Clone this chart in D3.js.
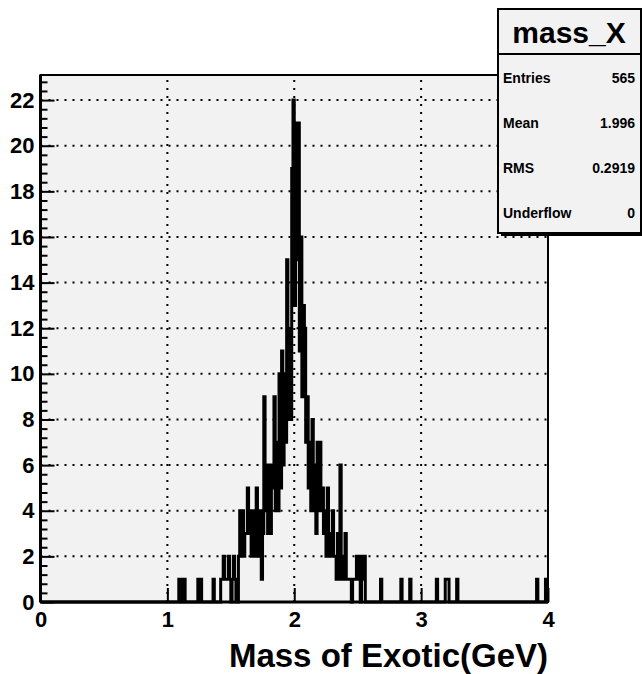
<!DOCTYPE html>
<html><head><meta charset="utf-8">
<script src="https://cdn.jsdelivr.net/npm/d3@7"></script>
<style>body{margin:0;background:#fff}svg{display:block}text{font-family:'Liberation Sans',Arial,Helvetica,sans-serif;font-weight:bold}</style>
</head><body>
<svg id="c" width="642" height="674"></svg>
<script>
// ---- data ----
const nBins = 400;            // bins of 0.01 GeV from 0 to 4
const xRange = [0, 4];
const binIndex = [109,110,112,113,124,126,136,
  142,143,144,145,146,147,148,149,151,152,153,156,
  157,158,159,160,161,162,163,164,165,166,167,168,169,170,171,172,173,174,
  175,176,177,178,179,180,181,182,183,184,185,186,187,
  188,189,190,191,192,193,194,195,196,197,198,199,
  200,201,202,203,204,205,206,207,208,209,210,211,
  212,213,214,215,216,217,218,219,220,221,222,223,
  224,225,226,227,228,229,230,231,232,233,234,235,236,237,238,239,240,241,242,243,
  244,246,247,248,249,250,251,253,254,255,
  268,284,291,312,319,320,321,328,391,398];
const binCount = [1,1,1,1,1,1,1,
  1,1,2,1,1,1,2,1,1,2,1,2,
  4,2,4,2,3,3,5,3,4,2,2,4,2,5,3,2,4,1,
  3,9,4,6,3,6,3,5,6,9,4,7,4,
  10,5,11,6,10,7,15,8,12,8,19,22,
  13,21,15,21,11,16,9,13,12,7,9,5,
  7,4,8,4,6,3,7,4,7,4,5,3,
  4,2,5,2,3,2,4,2,2,1,3,1,6,1,2,1,3,1,1,1,
  1,1,1,1,2,1,2,2,1,2,
  1,1,1,1,1,1,1,1,1,1];
const yMaxValue = 23.1;
const yMajorTicks = [0,2,4,6,8,10,12,14,16,18,20,22];
const yMinorTicks = [0.4,0.8,1.2,1.6,2.4,2.8,3.2,3.6,4.4,4.8,5.2,5.6,6.4,6.8,7.2,7.6,8.4,8.8,9.2,9.6,
  10.4,10.8,11.2,11.6,12.4,12.8,13.2,13.6,14.4,14.8,15.2,15.6,16.4,16.8,17.2,17.6,18.4,18.8,19.2,19.6,
  20.4,20.8,21.2,21.6,22.4,22.8];
const xMajorTicks = [0,1,2,3,4];
const statLabels = ["Entries","Mean","RMS","Underflow"];
const statValues = ["565","1.996","0.2919","0"];
const histName = "mass_X";
const xTitle = "Mass of Exotic(GeV)";

// ---- layout ----
const L = 40.5, R = 548, T = 75, B = 602;
const svg = d3.select("#c");
const x = d3.scaleLinear().domain(xRange).range([L, R]);
const y = d3.scaleLinear().domain([0, yMaxValue]).range([B, T]);

// frame background
svg.append("rect").attr("x", L).attr("y", T).attr("width", R - L).attr("height", B - T)
  .attr("fill", "#f2f2f2");

// grid
const grid = svg.append("g").attr("stroke", "#000").attr("stroke-width", 2).attr("stroke-dasharray", "2 6");
grid.selectAll("line.h").data(yMajorTicks.filter(d => d > 0)).join("line")
  .attr("x1", L).attr("x2", R).attr("y1", d => y(d)).attr("y2", d => y(d));
grid.selectAll("line.v").data(xMajorTicks.filter(d => d > 0 && d < 4)).join("line")
  .attr("y1", B).attr("y2", T).attr("x1", d => x(d)).attr("x2", d => x(d));

// histogram
const counts = new Array(nBins).fill(0);
binIndex.forEach((b, i) => counts[b] = binCount[i]);
const bw = (xRange[1] - xRange[0]) / nBins;
const pts = [[xRange[0], 0]];
counts.forEach((c, i) => { pts.push([xRange[0] + i * bw, c]); pts.push([xRange[0] + (i + 1) * bw, c]); });
pts.push([xRange[1], 0]);
svg.append("path").attr("d", d3.line().x(d => x(d[0])).y(d => y(d[1]))(pts))
  .attr("fill", "none").attr("stroke", "#000").attr("stroke-width", 3).attr("stroke-linejoin", "miter");

// frame
svg.append("rect").attr("x", L).attr("y", T).attr("width", R - L).attr("height", B - T)
  .attr("fill", "none").attr("stroke", "#000").attr("stroke-width", 2);

// axes
const yAxis = svg.append("g").attr("transform", `translate(${L},0)`)
  .call(d3.axisLeft(y).tickValues(yMajorTicks).tickSize(-14).tickPadding(6).tickFormat(d3.format("d")));
const yMinor = svg.append("g").attr("transform", `translate(${L},0)`)
  .call(d3.axisLeft(y).tickValues(yMinorTicks).tickSize(-7).tickFormat(""));
const xAxis = svg.append("g").attr("transform", `translate(0,${B})`)
  .call(d3.axisBottom(x).tickValues(xMajorTicks).tickSize(-14).tickPadding(9).tickFormat(d3.format("d")));
[yAxis, yMinor, xAxis].forEach(g => {
  g.attr("font-family", null).attr("font-size", null);
  g.select(".domain").attr("stroke", "#000").attr("stroke-width", 3);
  g.selectAll(".tick line").attr("stroke", "#000").attr("stroke-width", 2);
  g.selectAll("text").style("font-weight", "bold").style("font-size", "22px").attr("fill", "#000");
});
yAxis.select(".domain").attr("d", `M0,${B}V${T}`);
yMinor.select(".domain").remove();
xAxis.select(".domain").attr("d", `M${L},0H${R}`);

// x axis title
svg.append("text").attr("x", R).attr("y", 667).attr("text-anchor", "end")
  .style("font-size", "33px").text(xTitle);

// stats box
const sx = 498, sy = 9, sw = 143, sh = 224;
svg.append("rect").attr("x", sx + 3).attr("y", sy + 3).attr("width", sw).attr("height", sh).attr("fill", "#000");
svg.append("rect").attr("x", sx).attr("y", sy).attr("width", sw).attr("height", sh)
  .attr("fill", "#f2f2f2").attr("stroke", "#000").attr("stroke-width", 2);
svg.append("line").attr("x1", sx).attr("x2", sx + sw).attr("y1", 54).attr("y2", 54)
  .attr("stroke", "#000").attr("stroke-width", 2);
svg.append("text").attr("x", 569).attr("y", 43).attr("text-anchor", "middle")
  .style("font-size", "30px").text(histName);
const rowY = [83, 127.5, 172.5, 217.5];
svg.selectAll("text.sl").data(statLabels).join("text").attr("class", "sl")
  .attr("x", 503).attr("y", (d, i) => rowY[i]).style("font-size", "14px").text(d => d);
svg.selectAll("text.sv").data(statValues).join("text").attr("class", "sv")
  .attr("x", 635).attr("y", (d, i) => rowY[i]).attr("text-anchor", "end")
  .style("font-size", "14px").text(d => d);
</script>
</body></html>
